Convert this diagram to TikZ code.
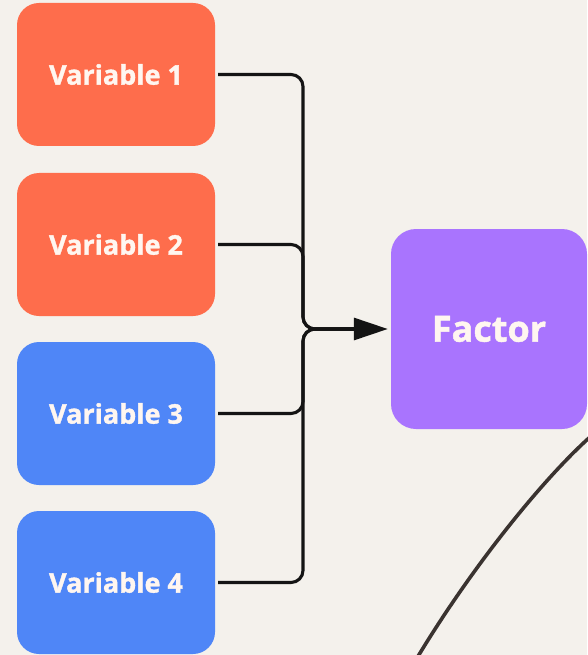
\documentclass[tikz,border=0pt]{standalone}
\usepackage{fontspec}
\setmainfont{Open Sans}[BoldFeatures={FakeBold=1.3}]
\usetikzlibrary{arrows.meta}
\definecolor{bg}{HTML}{F4F1EC}
\definecolor{varred}{HTML}{FE6D4C}
\definecolor{varblue}{HTML}{4F86F7}
\definecolor{factorpurple}{HTML}{A974FE}
\definecolor{textwhite}{HTML}{FFF6F0}
\definecolor{curveink}{HTML}{3A3330}
\begin{document}
\begin{tikzpicture}[x=1pt,y=-1pt,
  varbox/.style={rounded corners=22pt, minimum width=198pt, minimum height=143pt,
    inner sep=0pt, text=textwhite, font=\fontsize{27}{30}\selectfont\bfseries},
  factorbox/.style={rounded corners=25pt, minimum width=196pt, minimum height=200pt,
    inner sep=0pt, text=textwhite, font=\fontsize{36}{40}\selectfont\bfseries,
    fill=factorpurple},
  link/.style={line width=3.1pt, black!92, rounded corners=12pt}]
  % canvas
  \fill[bg] (0,0) rectangle (587,655);
  \useasboundingbox (0,0) rectangle (587,655);

  % input variables
  \node[varbox, fill=varred]  (v1) at (116,74.5)  {Variable 1};
  \node[varbox, fill=varred]  (v2) at (116,244.5) {Variable 2};
  \node[varbox, fill=varblue] (v3) at (116,413.5) {Variable 3};
  \node[varbox, fill=varblue] (v4) at (116,582.5) {Variable 4};

  % target factor
  \node[factorbox] (f) at (489,329) {Factor};

  % bus where the four connectors merge and turn towards the factor
  \coordinate (j) at (303,329);
  \coordinate (k) at (340,329);

  \foreach \v in {v1,v2,v3,v4}
    \draw[link] ([xshift=3pt]\v.east) -| (j) -- (k);
  \draw[link, -{Triangle[length=34pt,width=22pt]}] (k) -- ([xshift=-3pt]f.west);

  % free curve in the lower right corner
  \coordinate (c1) at (590,437);
  \coordinate (c2) at (417,658);
  \draw[curveink, line width=3.6pt] (c1) .. controls (540,482) and (470,570) .. (c2);
\end{tikzpicture}
\end{document}
